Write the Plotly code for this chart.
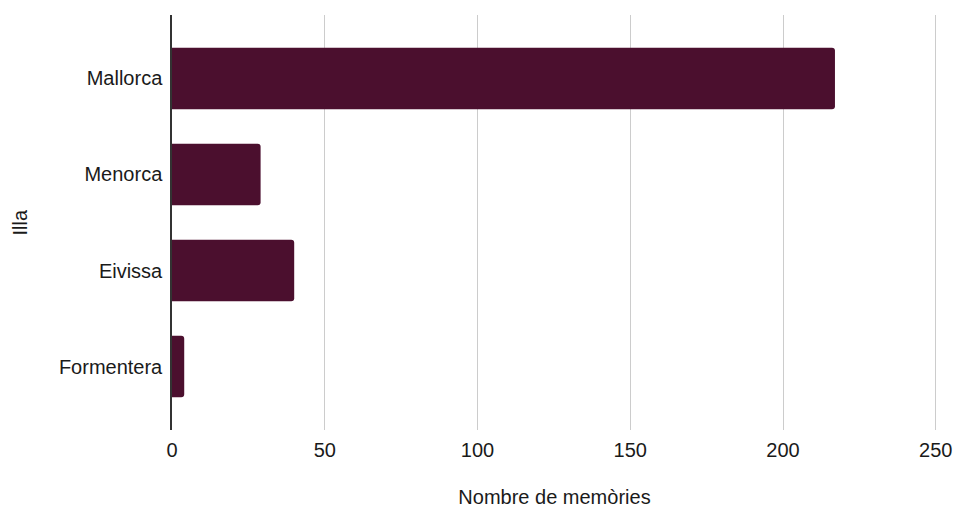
import plotly.graph_objects as go

illes = ["Mallorca", "Menorca", "Eivissa", "Formentera"]
memories = [217, 29, 40, 4]
x_ticks = [0, 50, 100, 150, 200, 250]

fig = go.Figure()
fig.add_trace(go.Bar(
    x=memories, y=illes, orientation="h",
    marker=dict(color="#4b0f2e", cornerradius=3, line=dict(width=0)),
))

fig.update_layout(
    width=957, height=508,
    margin=dict(l=172, r=20, t=15, b=78, autoexpand=False),
    paper_bgcolor="white", plot_bgcolor="white",
    bargap=0.36,
    showlegend=False,
    font=dict(family="Liberation Sans, Arial, sans-serif", size=20, color="#1a1a1a"),
)
fig.update_xaxes(
    range=[0, 250.4], tickvals=x_ticks, automargin=False,
    showgrid=True, gridcolor="#cccccc", gridwidth=1,
    zeroline=False, showline=False, ticks="", ticklen=0, ticklabelstandoff=6,
    ticklabeloverflow="allow",
    title=dict(text="Nombre de memòries", standoff=32, font=dict(size=20)),
)
fig.update_yaxes(
    categoryorder="array", categoryarray=illes, automargin=False,
    range=[3.66, -0.66],
    showgrid=False, zeroline=False,
    showline=True, linecolor="#333333", linewidth=1.5,
    ticks="", ticklen=0, ticklabelstandoff=4,
)
# y title as an annotation, the axis title gets pinned to the paper edge
fig.add_annotation(
    text="Illa", xref="paper", yref="paper", x=-0.2, y=0.5,
    textangle=-90, showarrow=False, xanchor="center", yanchor="middle",
    font=dict(size=20),
)

# drop the page's default body margin so the figure fills the window exactly
fig.write_html(
    "out.html",
    config={"displayModeBar": False},
    post_script="document.body.style.margin='0';document.body.style.overflow='hidden';",
)
